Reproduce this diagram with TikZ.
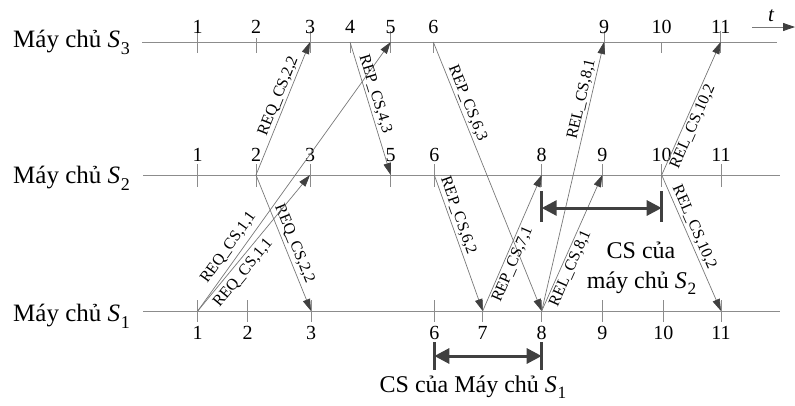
\documentclass[tikz,border=0pt]{standalone}
\usepackage{fontspec}
\setmainfont{Liberation Serif}
\usetikzlibrary{arrows.meta}
\definecolor{axgray}{RGB}{140,140,140}
\definecolor{msggray}{RGB}{120,120,120}
\definecolor{tipgray}{RGB}{64,64,64}
\newcommand\srvsub[1]{\textit{S}\kern0.03em\raisebox{-0.28em}{\scalebox{0.72}{#1}}}
\tikzset{
  axisline/.style={draw=axgray, line width=0.8pt},
  tickline/.style={draw=axgray, line width=0.8pt},
  msg/.style={draw=msggray, line width=0.7pt, -{Triangle[length=12pt,width=7.5pt,fill=tipgray,color=tipgray]}},
  msglabel/.style={font=\fontsize{16}{16}\selectfont, sloped, inner sep=2pt},
  num/.style={font=\fontsize{20}{20}\selectfont, anchor=base, inner sep=0pt},
  srvlabel/.style={font=\fontsize{25}{25}\selectfont, anchor=base west, inner sep=0pt},
  cslabel/.style={font=\fontsize{24}{24}\selectfont, anchor=base, inner sep=0pt},
  csarrow/.style={draw=tipgray, line width=3pt, {Triangle[length=15pt,width=15pt,fill=tipgray]}-{Triangle[length=15pt,width=15pt,fill=tipgray]}},
  csbar/.style={draw=tipgray, line width=3pt},
  tarrow/.style={draw=msggray, line width=0.8pt, -{Triangle[length=12pt,width=8pt,fill=tipgray,color=tipgray]}}
}
\begin{document}
\begin{tikzpicture}[x=1pt,y=-1pt]
\useasboundingbox (0,0) rectangle (795,405);
% axes
\coordinate (s3L) at (142,42);  \coordinate (s3R) at (777,42);
\coordinate (s2L) at (143,175); \coordinate (s2R) at (780,175);
\coordinate (s1L) at (143,311); \coordinate (s1R) at (780,311);
\draw[axisline] (s3L) -- (s3R);
\draw[axisline] (s2L) -- (s2R);
\draw[axisline] (s1L) -- (s1R);
% server labels
\node[srvlabel] (l3) at (13,47) {Máy chủ \srvsub{3}};
\node[srvlabel] (l2) at (13,183) {Máy chủ \srvsub{2}};
\node[srvlabel] (l1) at (13,321) {Máy chủ \srvsub{1}};
% time arrow
\coordinate (t0) at (752,27); \coordinate (t1) at (795,27);
\draw[tarrow] (t0) -- (t1);
\node[font=\fontsize{21}{21}\selectfont\itshape, anchor=base, inner sep=0pt] (tl) at (771,21) {t};
% ticks S3 (number/x/top of tick)
\foreach \n/\x/\tp in {1/197.7/31,2/256/38,3/310/31,4/350/42,5/390.7/31,6/433.3/42,9/604/31,10/661.7/42,11/720.7/31}{
  \coordinate (c\n) at (\x,42);
  \draw[tickline] (\x,\tp) -- (\x,53);
  \node[num] (nc\n) at (\x,33) {\n};
}
% ticks S2
\foreach \n/\x in {1/197.7,2/256,3/310,5/390.7,6/434.3,8/541.7,9/602.3,10/661.7,11/721}{
  \coordinate (b\n) at (\x,175);
  \draw[tickline] (\x,164) -- (\x,187);
  \node[num] (nb\n) at (\x,161) {\n};
}
% ticks S1
\foreach \n/\x in {1/197.7,2/247.7,3/311,6/434.3,7/482.7,8/541.7,9/602.3,10/663.3,11/721}{
  \coordinate (a\n) at (\x,311);
  \draw[tickline] (\x,300) -- (\x,322);
  \node[num] (na\n) at (\x,339) {\n};
}
% messages
\draw[msg] (b2) -- node[msglabel, pos=.57, above] (m1) {REQ\_CS,2,2} (c3);
\draw[msg] (b2) -- node[msglabel, pos=.53, above=1pt] (m2) {REQ\_CS,2,2} (a3);
\draw[msg] (a1) -- node[msglabel, pos=.21, above=3pt] (m3) {REQ\_CS,1,1} (c5);
\draw[msg] (a1) -- node[msglabel, pos=.33, below=2pt] (m4) {REQ\_CS,1,1} (b3);
\draw[msg] (c4) -- node[msglabel, pos=.41, above] (m5) {REP\_CS,4,3} (b5);
\draw[msg] (c6) -- node[msglabel, pos=.24, above] (m6) {REP\_CS,6,3} (a8);
\draw[msg] (b6) -- node[msglabel, pos=.32, above] (m7) {REP\_CS,6,2} (a7);
\draw[msg] (a7) -- node[msglabel, pos=.37, below] (m8) {REP\_CS,7,1} (b8);
\draw[msg] (a8) -- node[msglabel, pos=.78, above] (m9) {REL\_CS,8,1} (c9);
\draw[msg] (a8) -- node[msglabel, pos=.34, below] (m10) {REL\_CS,8,1} (b9);
\draw[msg] (b10) -- node[msglabel, pos=.39, below] (m11) {REL\_CS,10,2} (c11);
\draw[msg] (b10) -- node[msglabel, pos=.41, above] (m12) {REL\_CS,10,2} (a11);
% CS of S2
\coordinate (p1) at (541.7,208); \coordinate (p2) at (661.7,208);
\coordinate (p1t) at (541.7,191); \coordinate (p1b) at (541.7,222);
\coordinate (p2t) at (661.7,191); \coordinate (p2b) at (661.7,222);
\draw[csbar] (p1t) -- (p1b);
\draw[csbar] (p2t) -- (p2b);
\draw[csarrow] (p1) -- (p2);
\node[cslabel] (cs2a) at (641,258) {CS của};
\node[cslabel] (cs2b) at (641.5,288) {máy chủ \srvsub{2}};
% CS of S1
\coordinate (q1) at (434.3,356); \coordinate (q2) at (541.7,356);
\coordinate (q1t) at (434.3,342); \coordinate (q1b) at (434.3,370);
\coordinate (q2t) at (541.7,342); \coordinate (q2b) at (541.7,370);
\draw[csbar] (q1t) -- (q1b);
\draw[csbar] (q2t) -- (q2b);
\draw[csarrow] (q1) -- (q2);
\node[cslabel] (cs1) at (473,392) {CS của Máy chủ \srvsub{1}};
\end{tikzpicture}
\end{document}
